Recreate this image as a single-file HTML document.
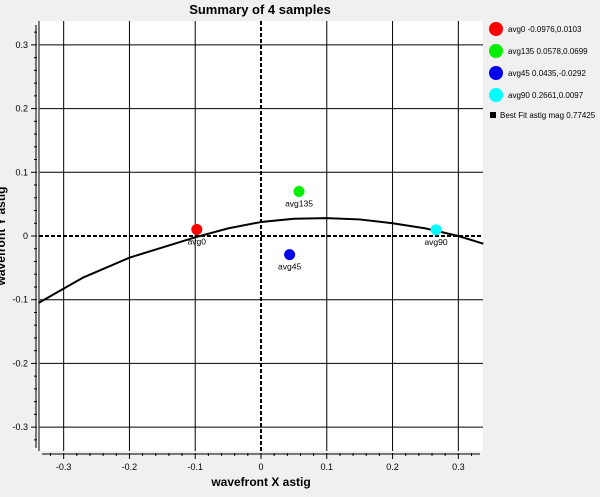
<!DOCTYPE html>
<html><head><meta charset="utf-8"><style>
body{margin:0;background:#f0f0f0;font-family:"Liberation Sans",sans-serif}
svg text{font-family:"Liberation Sans",sans-serif}
</style></head><body>
<svg id="c" width="600" height="492" xmlns="http://www.w3.org/2000/svg">
<rect x="39" y="21" width="444" height="430" fill="#fff"/>
<text x="260" y="14" text-anchor="middle" font-size="13" font-weight="bold">Summary of 4 samples</text>
<text x="261" y="486" text-anchor="middle" font-size="12" font-weight="bold">wavefront X astig</text>
<text transform="translate(5,236) rotate(-90)" text-anchor="middle" font-size="12" font-weight="bold">wavefront Y astig</text>
<g id="grid"></g><g id="curve"></g><g id="pts"></g><g id="legend"></g>
</svg>
<script>
const xTicks=[-0.3,-0.2,-0.1,0,0.1,0.2,0.3];
const yTicks=[-0.3,-0.2,-0.1,0,0.1,0.2,0.3];
const names=["avg0","avg135","avg45","avg90"];
const xs=[-0.0976,0.0578,0.0435,0.2661];
const ys=[0.0103,0.0699,-0.0292,0.0097];
const colors=["#ff0000","#00ee00","#0000ee","#00ffff"];
const fitX=[-0.338,-0.27,-0.2,-0.1,-0.05,0,0.05,0.1,0.15,0.2,0.25,0.3,0.338];
const fitY=[-0.105,-0.065,-0.034,-0.002,0.012,0.022,0.027,0.028,0.026,0.02,0.012,0.0,-0.012];
const fitMag="0.77425";
const X0=39,X1=483,Y0=21,Y1=451,R=0.3375;
const sx=v=>261+v/R*(X1-261), sy=v=>236-v/R*(Y1-236);
const NS="http://www.w3.org/2000/svg";
function mk(t,a,p){const e=document.createElementNS(NS,t);for(const k in a)e.setAttribute(k,a[k]);p.appendChild(e);return e;}
const g=document.getElementById('grid');
xTicks.forEach(v=>{const x=sx(v);
 if(v!==0){const l=mk('line',{x1:x,x2:x,y1:Y0,y2:Y1,stroke:'#000','stroke-width':1},g);}
 const tl=mk('line',{x1:x,x2:x,y1:453,y2:459,stroke:'#000'},g);
 const t=mk('text',{x:x,y:470,'text-anchor':'middle','font-size':9},g);t.textContent=v===0?'0':v.toFixed(1);
 });
for(let i=-33;i<=33;i++){if(i%10===0)continue;const x=sx(i/100);if(i%2)continue;mk('line',{x1:x,x2:x,y1:453,y2:456,stroke:'#000'},g);}
yTicks.forEach(v=>{const y=sy(v);
 if(v!==0){const l=mk('line',{x1:X0,x2:X1,y1:y,y2:y,stroke:'#000','stroke-width':1},g);}
 const tl=mk('line',{x1:31,x2:37,y1:y,y2:y,stroke:'#000'},g);
 const t=mk('text',{x:28,y:y+3,'text-anchor':'end','font-size':9},g);t.textContent=v===0?'0':v.toFixed(1);
 });
for(let i=-33;i<=33;i++){if(i%10===0||i%2)continue;const y=sy(i/100);mk('line',{x1:34,x2:37,y1:y,y2:y,stroke:'#000'},g);}
mk('line',{x1:36,x2:36,y1:25,y2:448,stroke:'#000'},g);
mk('line',{x1:42,x2:480,y1:454,y2:454,stroke:'#000'},g);
mk('line',{x1:39,x2:39,y1:21,y2:451,stroke:'#555','stroke-width':1.5},g);
let d1=mk('line',{x1:sx(0),x2:sx(0),y1:Y0,y2:Y1,stroke:'#000','stroke-width':2,'stroke-dasharray':'4,2'},g);

let d2=mk('line',{x1:X0,x2:X1,y1:sy(0),y2:sy(0),stroke:'#000','stroke-width':2,'stroke-dasharray':'4,2'},g);

const cp=mk('polyline',{points:fitX.map((x,i)=>sx(x)+','+sy(fitY[i])).join(' '),fill:'none',stroke:'#000','stroke-width':2},document.getElementById('curve'));

const P=document.getElementById('pts'),L=document.getElementById('legend');
names.forEach((n,i)=>{
 const c=mk('circle',{cx:sx(xs[i]),cy:sy(ys[i]),r:5.5,fill:colors[i]},P);
 
 const t=mk('text',{x:sx(xs[i]),y:sy(ys[i])+15,'text-anchor':'middle','font-size':8.5},P);t.textContent=n;
 
 const ly=29+i*22;
 const lc=mk('circle',{cx:496,cy:ly,r:7,fill:colors[i]},L);
 
 const lt=mk('text',{x:508,y:ly+3,'font-size':8},L);lt.textContent=n+' '+xs[i]+','+ys[i];
 
});
const sq=mk('rect',{x:490,y:112,width:6,height:6,fill:'#000'},L);

const ft=mk('text',{x:500,y:118,'font-size':8},L);ft.textContent='Best Fit astig mag '+fitMag;

</script>
</body></html>
